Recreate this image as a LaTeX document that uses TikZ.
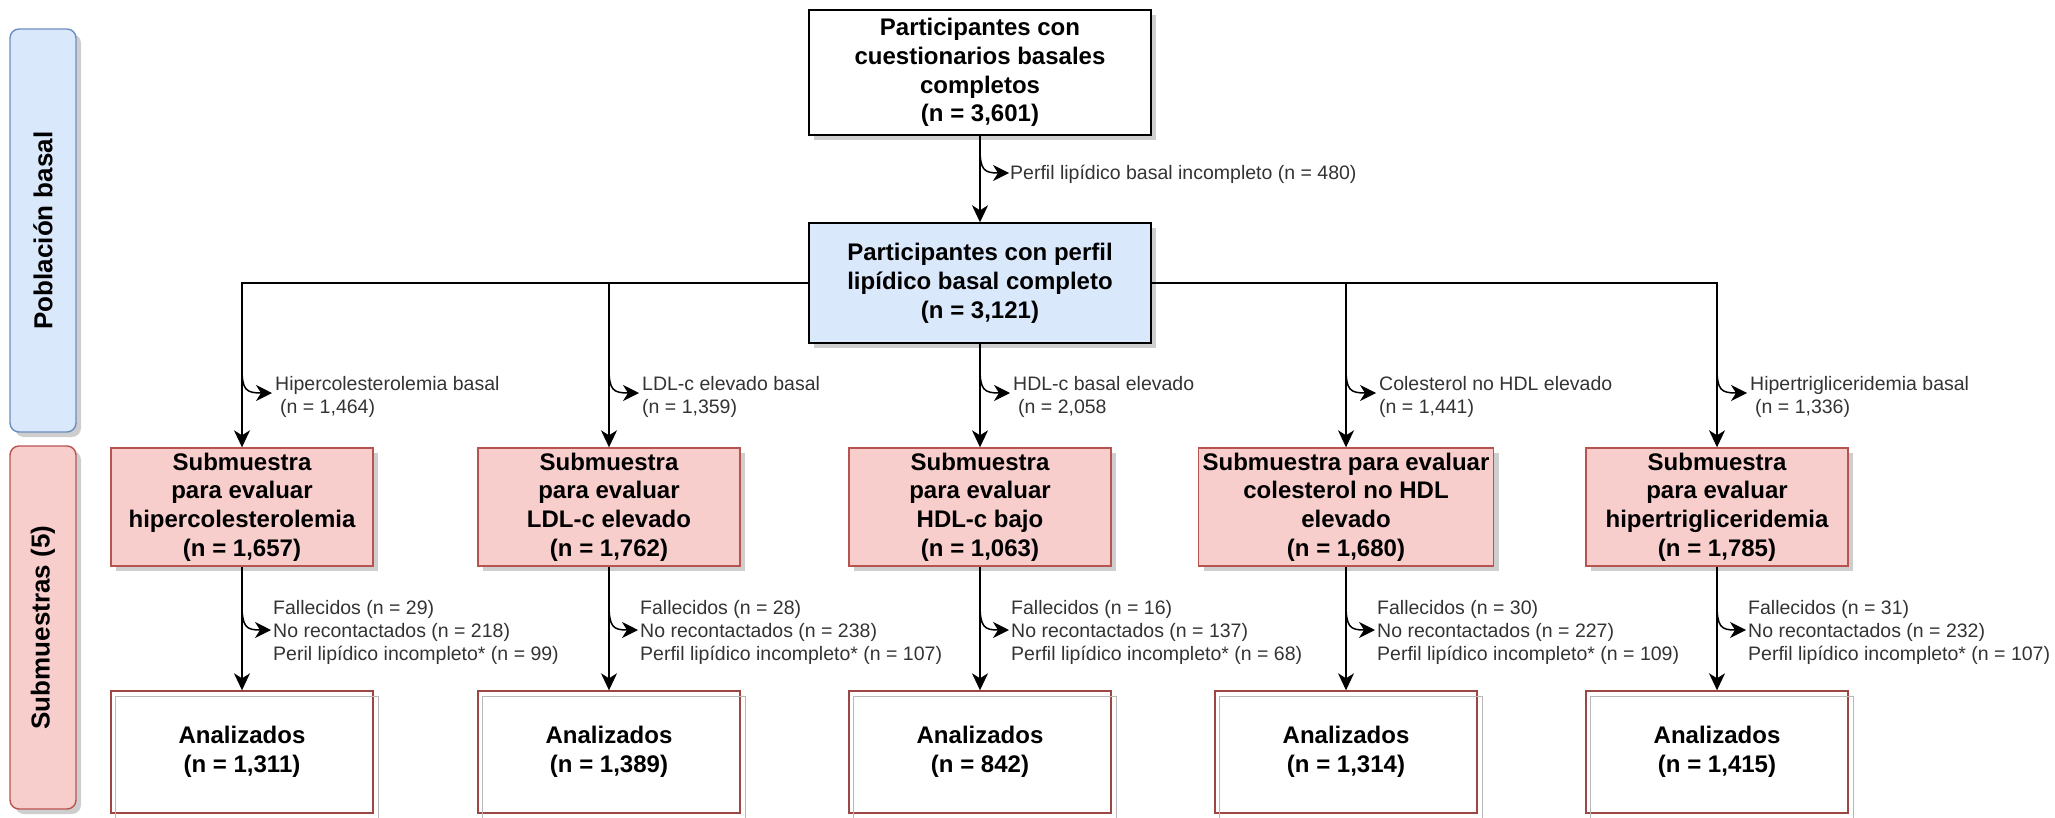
\documentclass[tikz,border=0pt]{standalone}
\usepackage{fontspec}
\setmainfont{Liberation Sans}
\usetikzlibrary{arrows.meta,shadows,calc}
\definecolor{pinkF}{HTML}{F8CECC}
\definecolor{pinkD}{HTML}{B85450}
\definecolor{blueF}{HTML}{DAE8FC}
\definecolor{blueD}{HTML}{6C8EBF}
\definecolor{txtG}{HTML}{333333}
\begin{document}
\begin{tikzpicture}[x=1pt,y=-1pt,
  shad/.style={drop shadow={shadow xshift=5pt, shadow yshift=-5pt, opacity=0.35, fill=black!55}},
  bx/.style={draw=black, line width=1.4pt, fill=white, inner sep=0pt, align=center,
             font=\fontsize{24}{28.8}\selectfont\bfseries},
  pinkbox/.style={bx, shad, draw=pinkD, fill=pinkF, minimum width=262, minimum height=118},
  anbox/.style={bx, draw=pinkD!85!black, fill=white, minimum width=262, minimum height=122},
  sidebar/.style={bx, shad, rounded corners=9pt, rotate=90, minimum height=66,
             font=\fontsize{26}{30}\selectfont\bfseries},
  lbl/.style={inner sep=0pt, anchor=west, align=left, text=txtG,
             font=\fontsize{19.5}{23}\selectfont},
  edge/.style={line width=1.5pt, -{Stealth[length=17pt,width=16pt,inset=5pt]}},
  hook/.style={line width=1.5pt, -{Stealth[length=16pt,width=16pt,inset=5pt]}}
]
\useasboundingbox (0,0) rectangle (2055,817);

% side bars
\node[sidebar, fill=blueF, draw=blueD, minimum width=403] (pb) at (43,230.5) {Población basal};
\node[sidebar, fill=pinkF, draw=pinkD, minimum width=363] (sm) at (43,627.5) {Submuestras (5)};

% top boxes
\node[bx, shad, minimum width=342, minimum height=125] (top) at (980,72.5)
  {Participantes con\\cuestionarios basales\\completos\\(n = 3,601)};
\node[bx, shad, fill=blueF, minimum width=342, minimum height=120] (blue) at (980,283)
  {Participantes con perfil\\lipídico basal completo\\(n = 3,121)};

\draw[edge] (top) -- (blue);
\coordinate (h0s) at (980,148);
\coordinate (h0e) at (1009,173);
\node[lbl] (l0) at (1010,174) {Perfil lipídico basal incompleto (n = 480)};
\draw[hook] (h0s) .. controls (980,170) and (984,173) .. (h0e);

% submuestra boxes
\node[pinkbox] (p1) at (242,507) {Submuestra\\para evaluar\\hipercolesterolemia\\(n = 1,657)};
\node[pinkbox] (p2) at (609,507) {Submuestra\\para evaluar\\LDL-c elevado\\(n = 1,762)};
\node[pinkbox] (p3) at (980,507) {Submuestra\\para evaluar\\HDL-c bajo\\(n = 1,063)};
\node[pinkbox, minimum width=295] (p4) at (1346,507) {Submuestra para evaluar\\colesterol no HDL\\elevado\\(n = 1,680)};
\node[pinkbox] (p5) at (1717,507) {Submuestra\\para evaluar\\hipertrigliceridemia\\(n = 1,785)};

\draw[edge] (blue.west) -| (p1);
\draw[edge] (blue.west) -| (p2);
\draw[edge] (blue) -- (p3);
\draw[edge] (blue.east) -| (p4);
\draw[edge] (blue.east) -| (p5);

% analizados boxes
\foreach \i/\x/\n in {1/242/{1,311},2/609/{1,389},3/980/{842},4/1346/{1,314},5/1717/{1,415}}{
  \node[anbox] (a\i) at (\x,752) {Analizados\\(n = \n)};
  \draw[gray!55, line width=1.2pt] ($(a\i.north west)+(5,6)$) rectangle ($(a\i.south east)+(5,6)$);
  \draw[edge] (p\i) -- (a\i);
  % branch hooks
  \coordinate (bs\i) at (\x,368);
  \coordinate (be\i) at (\x+30,393);
  \draw[hook] (bs\i) .. controls (\x,390) and (\x+4,393) .. (be\i);
  % exclusion hooks
  \coordinate (es\i) at (\x,604);
  \coordinate (ee\i) at (\x+29,630);
  \draw[hook] (es\i) .. controls (\x,627) and (\x+4,630) .. (ee\i);
}

% branch labels
\node[lbl] (bl1) at (275,397) {Hipercolesterolemia basal\\\hspace{5pt}(n = 1,464)};
\node[lbl] (bl2) at (642,397) {LDL-c elevado basal\\(n = 1,359)};
\node[lbl] (bl3) at (1013,397) {HDL-c basal elevado\\\hspace{5pt}(n = 2,058};
\node[lbl] (bl4) at (1379,397) {Colesterol no HDL elevado\\(n = 1,441)};
\node[lbl] (bl5) at (1750,397) {Hipertrigliceridemia basal\\\hspace{5pt}(n = 1,336)};

% exclusion labels
\node[lbl] (el1) at (273,632) {Fallecidos (n = 29)\\No recontactados (n = 218)\\Peril lipídico incompleto* (n = 99)};
\node[lbl] (el2) at (640,632) {Fallecidos (n = 28)\\No recontactados (n = 238)\\Perfil lipídico incompleto* (n = 107)};
\node[lbl] (el3) at (1011,632) {Fallecidos (n = 16)\\No recontactados (n = 137)\\Perfil lipídico incompleto* (n = 68)};
\node[lbl] (el4) at (1377,632) {Fallecidos (n = 30)\\No recontactados (n = 227)\\Perfil lipídico incompleto* (n = 109)};
\node[lbl] (el5) at (1748,632) {Fallecidos (n = 31)\\No recontactados (n = 232)\\Perfil lipídico incompleto* (n = 107)};
\end{tikzpicture}
\end{document}
